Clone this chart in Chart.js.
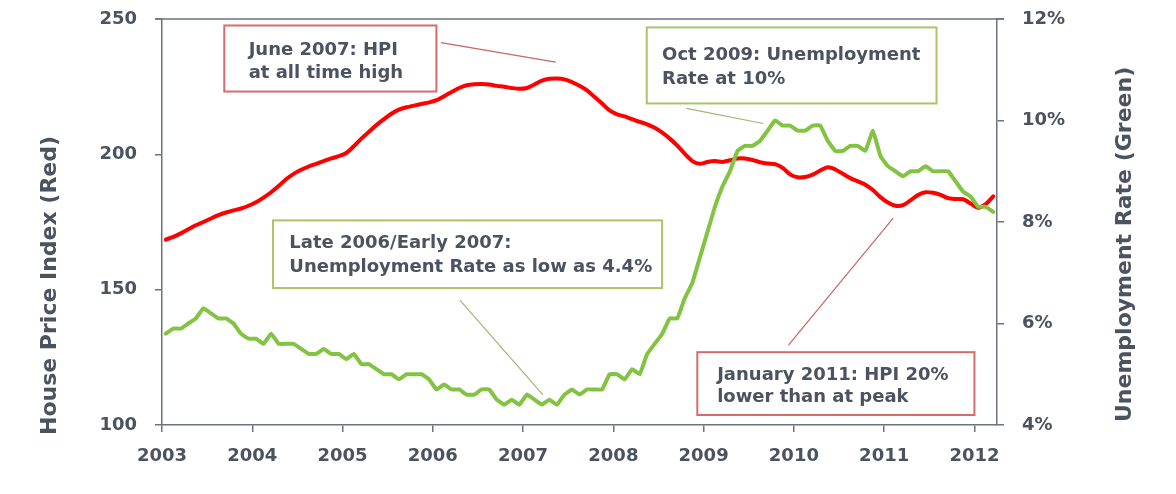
<!DOCTYPE html>
<html><head><meta charset="utf-8">
<script src="https://cdn.jsdelivr.net/npm/chart.js@4/dist/chart.umd.min.js"></script>
<style>html,body{margin:0;padding:0;background:#fff;}#wrap{width:1176px;height:494px;}</style>
</head><body><div id="wrap"><canvas id="c" width="1176" height="494"></canvas></div>
<script>
// ---- data ----
const startYear = 2003;
const xTickYears = [2003, 2004, 2005, 2006, 2007, 2008, 2009, 2010, 2011, 2012];
const hpiTicks = [100, 150, 200, 250];
const rateTicks = [4, 6, 8, 10, 12];

// House Price Index (Red), monthly Jan 2003 - Mar 2012
const hpi = [
 168.5,169.5,170.8,172.3,173.8,175,176.3,177.5,178.5,179.3,180,181,
 182.3,184,186,188.3,190.8,192.8,194.3,195.5,196.5,197.5,198.5,199.3,
 200.5,203,205.8,208.3,210.8,213,215,216.5,217.4,218,218.6,219.2,
 220,221.5,223,224.5,225.5,225.9,226,225.8,225.3,225,224.5,224.2,
 224.5,225.8,227.2,227.9,228,227.7,226.7,225.3,223.6,221.2,218.8,216.2,
 214.8,214,213,212,211.1,209.8,208,205.8,203.2,200.2,197.5,196.5,
 197.2,197.5,197.2,197.8,198.5,198.5,197.9,197.1,196.6,196.4,195,192.6,
 191.5,191.6,192.5,194,195.2,194.4,192.8,191.2,190,188.8,186.8,184.2,
 182.2,181,181.2,183,185,186,185.8,185,183.8,183.5,183.4,181.8,
 180.3,181.6,184.5
];
// Unemployment Rate % (Green), monthly Jan 2003 - Mar 2012
const unemployment = [
 5.8,5.9,5.9,6.0,6.1,6.3,6.2,6.1,6.1,6.0,5.8,5.7,
 5.7,5.6,5.8,5.6,5.6,5.6,5.5,5.4,5.4,5.5,5.4,5.4,
 5.3,5.4,5.2,5.2,5.1,5.0,5.0,4.9,5.0,5.0,5.0,4.9,
 4.7,4.8,4.7,4.7,4.6,4.6,4.7,4.7,4.5,4.4,4.5,4.4,
 4.6,4.5,4.4,4.5,4.4,4.6,4.7,4.6,4.7,4.7,4.7,5.0,
 5.0,4.9,5.1,5.0,5.4,5.6,5.8,6.1,6.1,6.5,6.8,7.3,
 7.8,8.3,8.7,9.0,9.4,9.5,9.5,9.6,9.8,10.0,9.9,9.9,
 9.8,9.8,9.9,9.9,9.6,9.4,9.4,9.5,9.5,9.4,9.8,9.3,
 9.1,9.0,8.9,9.0,9.0,9.1,9.0,9.0,9.0,8.8,8.6,8.5,
 8.3,8.3,8.2
];
// month labels (categories)
const monthLabels = [];
for (let i = 0; i < hpi.length; i++) {
  const y = startYear + Math.floor(i / 12), m = (i % 12) + 1;
  monthLabels.push(y + '-' + String(m).padStart(2, '0'));
}
function monthPos(label) { const [y, m] = label.split('-').map(Number); return y + (m - 0.5) / 12; }

// annotations, positioned in data coordinates (year, HPI scale)
const annotations = [
 {lines:['June 2007: HPI','at all time high'], box:[2003.69,247.6,2006.04,223.2], text:[2003.96,238.4,229.9], border:'#d46c6c', lead:[2006.09,241.3,2007.36,234.1], leadColor:'#c96464'},
 {lines:['Oct 2009: Unemployment','Rate at 10%'], box:[2008.37,246.9,2011.58,218.8], text:[2008.54,236.5,227.7], border:'#a9c46c', lead:[2008.81,217.0,2009.66,211.4], leadColor:'#a3b477'},
 {lines:['Late 2006/Early 2007:','Unemployment Rate as low as 4.4%'], box:[2004.23,175.6,2008.54,150.6], text:[2004.41,167.2,158.3], border:'#a9c46c', lead:[2006.30,146.1,2007.22,111.1], leadColor:'#a3b477'},
 {lines:['January 2011: HPI 20%','lower than at peak'], box:[2008.93,126.9,2012.0,103.7], text:[2009.15,118.5,110.3], border:'#d46c6c', lead:[2009.94,129.5,2011.10,176.4], leadColor:'#c96464'}
];

const FONT = "'DejaVu Sans', Verdana, sans-serif";
const TXT = '#4b5360';
const AXIS = '#6b7280';

const overlay = {
  id: 'overlay',
  afterDraw(chart) {
    const ctx = chart.ctx, a = chart.chartArea, sx = chart.scales.x, sy = chart.scales.y, sy1 = chart.scales.y1;
    ctx.save();
    // top frame line
    ctx.strokeStyle = AXIS; ctx.lineWidth = 1.5;
    ctx.beginPath(); ctx.moveTo(a.left - 7, a.top); ctx.lineTo(a.right + 7, a.top); ctx.stroke();
    // annotations
    annotations.forEach(an => {
      const [bx0, by0, bx1, by1] = an.box;
      const X0 = sx.getPixelForValue(bx0), X1 = sx.getPixelForValue(bx1);
      const Y0 = sy.getPixelForValue(by0), Y1 = sy.getPixelForValue(by1);
      ctx.fillStyle = '#ffffff';
      ctx.fillRect(X0, Y0, X1 - X0, Y1 - Y0);
      ctx.strokeStyle = an.border; ctx.lineWidth = 2;
      ctx.strokeRect(X0, Y0, X1 - X0, Y1 - Y0);
      ctx.fillStyle = TXT; ctx.font = 'bold 18px ' + FONT;
      ctx.textAlign = 'left'; ctx.textBaseline = 'middle';
      const tx = sx.getPixelForValue(an.text[0]);
      an.lines.forEach((ln, i) => ctx.fillText(ln, tx, sy.getPixelForValue(an.text[1 + i])));
      const [lx0, ly0, lx1, ly1] = an.lead;
      ctx.strokeStyle = an.leadColor; ctx.lineWidth = 1.2;
      ctx.beginPath();
      ctx.moveTo(sx.getPixelForValue(lx0), sy.getPixelForValue(ly0));
      ctx.lineTo(sx.getPixelForValue(lx1), sy.getPixelForValue(ly1));
      ctx.stroke();
    });
    // axis titles (both read bottom-to-top)
    ctx.fillStyle = TXT; ctx.font = 'bold 22px ' + FONT;
    ctx.textBaseline = 'middle';
    ctx.save(); ctx.translate(sy.left + 50, a.bottom + 10); ctx.rotate(-Math.PI / 2);
    ctx.textAlign = 'left'; ctx.fillText('House Price Index (Red)', 0, 0); ctx.restore();
    ctx.save(); ctx.translate(sy1.right - 51, a.bottom - 3); ctx.rotate(-Math.PI / 2);
    ctx.textAlign = 'left'; ctx.fillText('Unemployment Rate (Green)', 0, 0); ctx.restore();
    ctx.restore();
  }
};

const tickFont = { family: FONT, size: 18, weight: 'bold' };
function fixV(w) { return s => { s.width = w; s.paddingTop = 0; s.paddingBottom = 0; }; }

new Chart(document.getElementById('c'), {
  type: 'line',
  data: {
    datasets: [
      { label: 'Unemployment Rate', yAxisID: 'y1',
        data: monthLabels.map((m, i) => ({ x: monthPos(m), y: unemployment[i] })),
        borderColor: '#82c341', borderWidth: 4, pointRadius: 0, tension: 0.1, borderJoinStyle: 'round', borderCapStyle: 'round' },
      { label: 'House Price Index', yAxisID: 'y',
        data: monthLabels.map((m, i) => ({ x: monthPos(m), y: hpi[i] })),
        borderColor: '#ff0000', borderWidth: 4, pointRadius: 0, tension: 0.3, borderJoinStyle: 'round', borderCapStyle: 'round' }
    ]
  },
  options: {
    responsive: false, animation: false, devicePixelRatio: 1,
    layout: { padding: { top: 19, left: 0, right: 0, bottom: 0 } },
    plugins: { legend: { display: false }, tooltip: { enabled: false } },
    scales: {
      x: {
        type: 'linear', min: 2003, max: 2012.25,
        afterBuildTicks: s => { s.ticks = xTickYears.map(v => ({ value: v })); },
        afterFit: s => { s.height = 69; s.paddingLeft = 0; s.paddingRight = 0; },
        grid: { display: true, drawOnChartArea: false, drawTicks: true, tickLength: 7, color: AXIS, lineWidth: 1.5 },
        border: { display: true, color: AXIS, width: 1.5 },
        ticks: { font: tickFont, color: TXT, padding: 14, autoSkip: false, maxRotation: 0, callback: v => String(v) }
      },
      y: {
        position: 'left', min: 100, max: 250,
        afterBuildTicks: s => { s.ticks = hpiTicks.map(v => ({ value: v })); },
        afterFit: fixV(162),
        grid: { display: true, drawOnChartArea: false, drawTicks: true, tickLength: 7, color: AXIS, lineWidth: 1.5 },
        border: { display: true, color: AXIS, width: 1.5 },
        ticks: { font: tickFont, color: TXT, padding: 18, callback: v => String(v) }
      },
      y1: {
        position: 'right', min: 4, max: 12,
        afterBuildTicks: s => { s.ticks = rateTicks.map(v => ({ value: v })); },
        afterFit: fixV(179),
        grid: { display: true, drawOnChartArea: false, drawTicks: true, tickLength: 7, color: AXIS, lineWidth: 1.5 },
        border: { display: true, color: AXIS, width: 1.5 },
        ticks: { font: tickFont, color: TXT, padding: 18, callback: v => v + '%' }
      }
    }
  },
  plugins: [overlay]
});
</script>
</body></html>
